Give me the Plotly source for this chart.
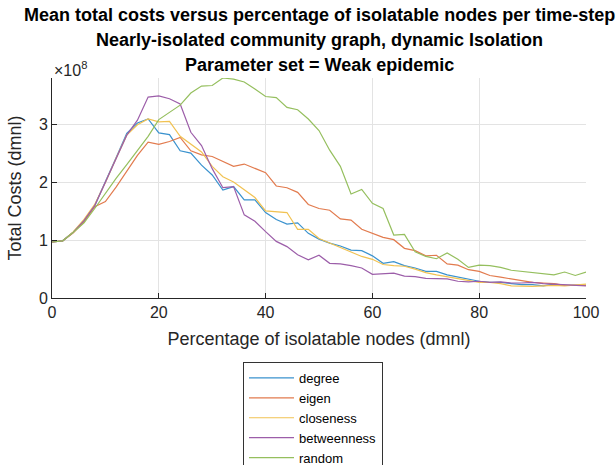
import plotly.graph_objects as go

# Percentage of isolatable nodes per time-step
pct = list(range(0, 101, 2))

# Mean total costs (units of 1e8)
degree = [0.97, 0.99, 1.14, 1.34, 1.60, 2.00, 2.43, 2.85, 3.03, 3.10,
          2.86, 2.83, 2.55, 2.51, 2.30, 2.13, 1.87, 1.93, 1.70, 1.70,
          1.48, 1.36, 1.28, 1.30, 1.12, 1.02, 0.95, 0.90, 0.83, 0.82,
          0.73, 0.60, 0.63, 0.56, 0.52, 0.46, 0.46, 0.40, 0.36, 0.32,
          0.29, 0.27, 0.27, 0.25, 0.23, 0.23, 0.21, 0.24, 0.22, 0.22,
          0.22]
eigen = [0.97, 0.99, 1.13, 1.32, 1.58, 1.67, 1.92, 2.20, 2.47, 2.70,
         2.66, 2.71, 2.78, 2.55, 2.48, 2.45, 2.36, 2.28, 2.32, 2.24,
         2.17, 1.94, 1.91, 1.83, 1.62, 1.55, 1.52, 1.37, 1.35, 1.19,
         1.12, 1.05, 1.01, 0.86, 0.82, 0.73, 0.74, 0.59, 0.57, 0.49,
         0.46, 0.39, 0.36, 0.33, 0.29, 0.27, 0.26, 0.25, 0.22, 0.22,
         0.22]
closeness = [0.97, 0.99, 1.15, 1.36, 1.62, 2.00, 2.42, 2.82, 3.00, 3.10,
             3.05, 3.06, 2.80, 2.66, 2.53, 2.28, 2.10, 2.01, 1.87, 1.74,
             1.51, 1.49, 1.48, 1.19, 1.19, 1.03, 0.95, 0.88, 0.80, 0.72,
             0.67, 0.58, 0.56, 0.55, 0.50, 0.44, 0.40, 0.37, 0.33, 0.30,
             0.27, 0.27, 0.25, 0.21, 0.20, 0.20, 0.21, 0.22, 0.21, 0.22,
             0.24]
betweenness = [0.97, 0.99, 1.14, 1.34, 1.60, 2.01, 2.44, 2.82, 3.08, 3.48,
               3.50, 3.45, 3.36, 2.87, 2.64, 2.24, 1.91, 1.93, 1.44, 1.33,
               1.15, 0.98, 0.89, 0.75, 0.66, 0.74, 0.60, 0.59, 0.56, 0.52,
               0.41, 0.42, 0.43, 0.38, 0.37, 0.34, 0.34, 0.33, 0.29, 0.28,
               0.29, 0.27, 0.28, 0.26, 0.26, 0.27, 0.25, 0.24, 0.22, 0.21,
               0.21]
random_ = [0.97, 0.99, 1.14, 1.30, 1.55, 1.82, 2.07, 2.31, 2.55, 2.80,
           3.09, 3.21, 3.34, 3.55, 3.67, 3.68, 3.81, 3.79, 3.74, 3.62,
           3.49, 3.47, 3.30, 3.26, 3.10, 2.90, 2.56, 2.28, 1.80, 1.88,
           1.64, 1.55, 1.09, 1.10, 0.80, 0.72, 0.68, 0.78, 0.67, 0.53,
           0.57, 0.56, 0.53, 0.48, 0.46, 0.43, 0.41, 0.40, 0.45, 0.39,
           0.45]

series_names = ["degree", "eigen", "closeness", "betweenness", "random"]
series_values = [degree, eigen, closeness, betweenness, random_]
series_colors = ["#3A92CE", "#E27B4E", "#F1C252", "#9C5EA9", "#95BF5E"]

x_ticks = [0, 20, 40, 60, 80, 100]
y_ticks = [0, 1, 2, 3]
scale = 1e8

FONT = "Liberation Sans, Arial, Helvetica, sans-serif"
INK = "#262626"

fig = go.Figure()
for name, vals, col in zip(series_names, series_values, series_colors):
    fig.add_trace(go.Scatter(
        x=pct, y=[v * scale for v in vals], mode="lines", name=name,
        line=dict(color=col, width=1.2),
    ))

ymax = max(max(v) for v in series_values) * scale

fig.update_layout(
    width=616, height=465,
    margin=dict(l=52, r=30, t=78, b=167, autoexpand=False),
    paper_bgcolor="white", plot_bgcolor="white",
    font=dict(family=FONT, size=16, color=INK),
    showlegend=True,
    legend=dict(
        x=(243 - 52) / 534, y=(298 - 362) / 220, xanchor="left", yanchor="top",
        bgcolor="white", bordercolor="#333333", borderwidth=1,
        font=dict(size=13, color="#000000"), tracegroupgap=0,
        itemwidth=45,
    ),
)

fig.update_xaxes(
    range=[0, 100], tickvals=x_ticks, ticktext=[str(t) for t in x_ticks],
    showgrid=True, gridcolor="#E3E3E3", gridwidth=1,
    showline=True, linecolor=INK, linewidth=1,
    ticks="inside", ticklen=5, tickcolor=INK, zeroline=False,
    tickfont=dict(size=16, color=INK),
    title=dict(text="Percentage of isolatable nodes (dmnl)",
               font=dict(size=18, color=INK), standoff=12),
)
fig.update_yaxes(
    range=[0, ymax], tickvals=[t * scale for t in y_ticks],
    ticktext=[str(t) for t in y_ticks],
    showgrid=True, gridcolor="#E3E3E3", gridwidth=1,
    showline=True, linecolor=INK, linewidth=1,
    ticks="inside", ticklen=5, tickcolor=INK, zeroline=False,
    tickfont=dict(size=16, color=INK),
    title=dict(text="Total Costs (dmnl)", font=dict(size=18, color=INK),
               standoff=12),
)

titles = [
    ("Mean total costs versus percentage of isolatable nodes per time-step", 15),
    ("Nearly-isolated community graph, dynamic Isolation", 40),
    ("Parameter set = Weak epidemic", 65),
]
for text, py in titles:
    fig.add_annotation(
        text="<b>%s</b>" % text, xref="paper", yref="paper",
        x=0.5, y=(298 - py) / 220, xanchor="center", yanchor="middle",
        showarrow=False, font=dict(size=18, color="#000000", family=FONT),
    )

fig.add_annotation(
    text="\u00d710<sup>8</sup>", xref="paper", yref="paper",
    x=0, y=(298 - 69) / 220, xanchor="left", yanchor="middle",
    showarrow=False, font=dict(size=16, color=INK, family=FONT),
)

fig.write_html("out.html")
